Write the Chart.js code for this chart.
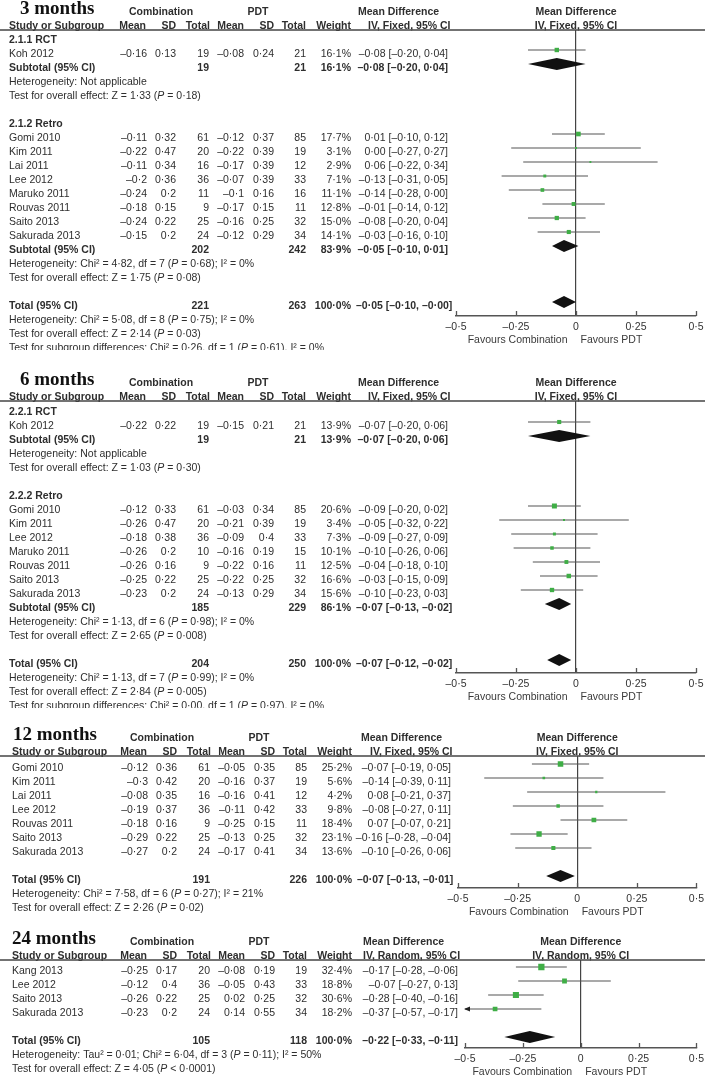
<!DOCTYPE html>
<html>
<head>
<meta charset="utf-8">
<script src="https://cdn.jsdelivr.net/npm/chart.js@4.4.1/dist/chart.umd.min.js"></script>
<style>
  html, body { margin: 0; padding: 0; background: #fff; }
  #pagina { position: relative; width: 709px; height: 1077px; overflow: hidden; background: #fff; }
  #pagina canvas { position: absolute; left: 0; }
</style>
</head>
<body>
<div id="pagina">
  <canvas id="pannello-3" width="709" height="350" style="top:0px"></canvas>
  <canvas id="pannello-6" width="709" height="353" style="top:355px"></canvas>
  <canvas id="pannello-12" width="709" height="208" style="top:712px"></canvas>
  <canvas id="pannello-24" width="709" height="155" style="top:922px"></canvas>
</div>
<script>
// ============================================================
// DATI - 3 mesi
// ============================================================
const studi3 = ["Koh 2012", "Gomi 2010", "Kim 2011", "Lai 2011", "Lee 2012", "Maruko 2011", "Rouvas 2011", "Saito 2013", "Sakurada 2013"];
const gruppo3 = [0, 1, 1, 1, 1, 1, 1, 1, 1];
const nomiGruppi3 = ["2.1.1 RCT", "2.1.2 Retro"];
const mediaComb3 = [-0.16, -0.11, -0.22, -0.11, -0.2, -0.24, -0.18, -0.24, -0.15];
const sdComb3 = [0.13, 0.32, 0.47, 0.34, 0.36, 0.2, 0.15, 0.22, 0.2];
const totComb3 = [19, 61, 20, 16, 36, 11, 9, 25, 24];
const mediaPdt3 = [-0.08, -0.12, -0.22, -0.17, -0.07, -0.1, -0.17, -0.16, -0.12];
const sdPdt3 = [0.24, 0.37, 0.39, 0.39, 0.39, 0.16, 0.15, 0.25, 0.29];
const totPdt3 = [21, 85, 19, 12, 33, 16, 11, 32, 34];
const peso3 = [16.1, 17.7, 3.1, 2.9, 7.1, 11.1, 12.8, 15.0, 14.1];
const diff3 = [-0.08, 0.01, 0.00, 0.06, -0.13, -0.14, -0.01, -0.08, -0.03];
const infCI3 = [-0.20, -0.10, -0.27, -0.22, -0.31, -0.28, -0.14, -0.20, -0.16];
const supCI3 = [0.04, 0.12, 0.27, 0.34, 0.05, 0.00, 0.12, 0.04, 0.10];
// sintesi: sottogruppi e poi totale
const sintComb3 = [19, 202, 221];
const sintPdt3 = [21, 242, 263];
const sintPeso3 = [16.1, 83.9, 100.0];
const sintDiff3 = [-0.08, -0.05, -0.05];
const sintInf3 = [-0.20, -0.10, -0.10];
const sintSup3 = [0.04, 0.01, -0.00];
const note3 = [
  ["Heterogeneity: Not applicable", "Test for overall effect: Z = 1·33 (P = 0·18)"],
  ["Heterogeneity: Chi² = 4·82, df = 7 (P = 0·68); I² = 0%", "Test for overall effect: Z = 1·75 (P = 0·08)"],
  ["Heterogeneity: Chi² = 5·08, df = 8 (P = 0·75); I² = 0%", "Test for overall effect: Z = 2·14 (P = 0·03)",
   "Test for subgroup differences: Chi² = 0·26, df = 1 (P = 0·61), I² = 0%"]
];

// ============================================================
// DATI - 6 mesi
// ============================================================
const studi6 = ["Koh 2012", "Gomi 2010", "Kim 2011", "Lee 2012", "Maruko 2011", "Rouvas 2011", "Saito 2013", "Sakurada 2013"];
const gruppo6 = [0, 1, 1, 1, 1, 1, 1, 1];
const nomiGruppi6 = ["2.2.1 RCT", "2.2.2 Retro"];
const mediaComb6 = [-0.22, -0.12, -0.26, -0.18, -0.26, -0.26, -0.25, -0.23];
const sdComb6 = [0.22, 0.33, 0.47, 0.38, 0.2, 0.16, 0.22, 0.2];
const totComb6 = [19, 61, 20, 36, 10, 9, 25, 24];
const mediaPdt6 = [-0.15, -0.03, -0.21, -0.09, -0.16, -0.22, -0.22, -0.13];
const sdPdt6 = [0.21, 0.34, 0.39, 0.4, 0.19, 0.16, 0.25, 0.29];
const totPdt6 = [21, 85, 19, 33, 15, 11, 32, 34];
const peso6 = [13.9, 20.6, 3.4, 7.3, 10.1, 12.5, 16.6, 15.6];
const diff6 = [-0.07, -0.09, -0.05, -0.09, -0.10, -0.04, -0.03, -0.10];
const infCI6 = [-0.20, -0.20, -0.32, -0.27, -0.26, -0.18, -0.15, -0.23];
const supCI6 = [0.06, 0.02, 0.22, 0.09, 0.06, 0.10, 0.09, 0.03];
const sintComb6 = [19, 185, 204];
const sintPdt6 = [21, 229, 250];
const sintPeso6 = [13.9, 86.1, 100.0];
const sintDiff6 = [-0.07, -0.07, -0.07];
const sintInf6 = [-0.20, -0.13, -0.12];
const sintSup6 = [0.06, -0.02, -0.02];
const note6 = [
  ["Heterogeneity: Not applicable", "Test for overall effect: Z = 1·03 (P = 0·30)"],
  ["Heterogeneity: Chi² = 1·13, df = 6 (P = 0·98); I² = 0%", "Test for overall effect: Z = 2·65 (P = 0·008)"],
  ["Heterogeneity: Chi² = 1·13, df = 7 (P = 0·99); I² = 0%", "Test for overall effect: Z = 2·84 (P = 0·005)",
   "Test for subgroup differences: Chi² = 0·00, df = 1 (P = 0·97), I² = 0%"]
];

// ============================================================
// DATI - 12 mesi
// ============================================================
const studi12 = ["Gomi 2010", "Kim 2011", "Lai 2011", "Lee 2012", "Rouvas 2011", "Saito 2013", "Sakurada 2013"];
const mediaComb12 = [-0.12, -0.3, -0.08, -0.19, -0.18, -0.29, -0.27];
const sdComb12 = [0.36, 0.42, 0.35, 0.37, 0.16, 0.22, 0.2];
const totComb12 = [61, 20, 16, 36, 9, 25, 24];
const mediaPdt12 = [-0.05, -0.16, -0.16, -0.11, -0.25, -0.13, -0.17];
const sdPdt12 = [0.35, 0.37, 0.41, 0.42, 0.15, 0.25, 0.41];
const totPdt12 = [85, 19, 12, 33, 11, 32, 34];
const peso12 = [25.2, 5.6, 4.2, 9.8, 18.4, 23.1, 13.6];
const diff12 = [-0.07, -0.14, 0.08, -0.08, 0.07, -0.16, -0.10];
const infCI12 = [-0.19, -0.39, -0.21, -0.27, -0.07, -0.28, -0.26];
const supCI12 = [0.05, 0.11, 0.37, 0.11, 0.21, -0.04, 0.06];
const sintComb12 = [191];
const sintPdt12 = [226];
const sintPeso12 = [100.0];
const sintDiff12 = [-0.07];
const sintInf12 = [-0.13];
const sintSup12 = [-0.01];
const note12 = [
  ["Heterogeneity: Chi² = 7·58, df = 6 (P = 0·27); I² = 21%", "Test for overall effect: Z = 2·26 (P = 0·02)"]
];

// ============================================================
// DATI - 24 mesi
// ============================================================
const studi24 = ["Kang 2013", "Lee 2012", "Saito 2013", "Sakurada 2013"];
const mediaComb24 = [-0.25, -0.12, -0.26, -0.23];
const sdComb24 = [0.17, 0.4, 0.22, 0.2];
const totComb24 = [20, 36, 25, 24];
const mediaPdt24 = [-0.08, -0.05, 0.02, 0.14];
const sdPdt24 = [0.19, 0.43, 0.25, 0.55];
const totPdt24 = [19, 33, 32, 34];
const peso24 = [32.4, 18.8, 30.6, 18.2];
const diff24 = [-0.17, -0.07, -0.28, -0.37];
const infCI24 = [-0.28, -0.27, -0.40, -0.57];
const supCI24 = [-0.06, 0.13, -0.16, -0.17];
const sintComb24 = [105];
const sintPdt24 = [118];
const sintPeso24 = [100.0];
const sintDiff24 = [-0.22];
const sintInf24 = [-0.33];
const sintSup24 = [-0.11];
const note24 = [
  ["Heterogeneity: Tau² = 0·01; Chi² = 6·04, df = 3 (P = 0·11); I² = 50%", "Test for overall effect: Z = 4·05 (P < 0·0001)"]
];

const tickAsse = [-0.5, -0.25, 0, 0.25, 0.5];

// ============================================================
// STILE
// ============================================================
const FONT = '"Liberation Sans", Arial, sans-serif';
const DIM = 10.5;
const TESTO = "#2e2e2e";
const GRIGIO = "#555";
const VERDE = "#3fae46";
const ALTEZZA_ASSE = 20;

function formattaNumero(v) {
  return (v < 0 ? "–" : "") + String(Math.abs(v)).replace(".", "·");
}

function formattaDue(v) {
  const negativo = v < 0 || Object.is(v, -0);
  return (negativo ? "–" : "") + Math.abs(v).toFixed(2).replace(".", "·");
}

function formattaPeso(v) {
  return v.toFixed(1).replace(".", "·") + "%";
}

function testoCI(md, lo, hi) {
  return formattaDue(md) + " [" + formattaDue(lo) + ", " + formattaDue(hi) + "]";
}

/**
 * Costruisce l'elenco delle righe (studi, sottogruppi, sintesi, note)
 * nell'ordine in cui compaiono nel forest plot.
 */
function costruisciRighe(d) {
  const righe = [];
  const gruppi = d.nomiGruppi || [];

  function riga(k) {
    return {
      tipo: "studio", etichetta: d.studi[k],
      mediaC: d.mediaC[k], sdC: d.sdC[k], nC: d.nC[k],
      mediaP: d.mediaP[k], sdP: d.sdP[k], nP: d.nP[k],
      peso: d.peso[k], md: d.md[k], lo: d.lo[k], hi: d.hi[k]
    };
  }
  function sintesi(k, etichetta) {
    return {
      tipo: "sintesi", etichetta: etichetta,
      nC: d.sintC[k], nP: d.sintP[k], peso: d.sintPeso[k],
      md: d.sintMd[k], lo: d.sintLo[k], hi: d.sintHi[k]
    };
  }
  function note(k) {
    d.note[k].forEach(function (t) { righe.push({ tipo: "nota", testo: t }); });
  }

  if (gruppi.length) {
    gruppi.forEach(function (nome, g) {
      righe.push({ tipo: "gruppo", testo: nome });
      d.studi.forEach(function (s, k) { if (d.gruppo[k] === g) righe.push(riga(k)); });
      righe.push(sintesi(g, "Subtotal (95% CI)"));
      note(g);
      righe.push({ tipo: "vuota" });
    });
  } else {
    d.studi.forEach(function (s, k) { righe.push(riga(k)); });
    righe.push({ tipo: "vuota" });
  }
  righe.push(sintesi(gruppi.length, "Total (95% CI)"));
  note(gruppi.length);
  return righe;
}

const PANNELLI = [
  {
    canvas: "pannello-3", titolo: "3 months", metodo: "IV, Fixed, 95% CI",
    top: 0, altezza: 350, lineaTestata: 30, primaRiga: 36, passo: 14, asseY: 316,
    asseSx: 456, asseDx: 696, dx: 0, sxTitolo: 20, sxEtichette: 9, dxCI: 448, sxMD: 358, sxMetodo: 368,
    righe: costruisciRighe({
      studi: studi3, gruppo: gruppo3, nomiGruppi: nomiGruppi3,
      mediaC: mediaComb3, sdC: sdComb3, nC: totComb3, mediaP: mediaPdt3, sdP: sdPdt3, nP: totPdt3,
      peso: peso3, md: diff3, lo: infCI3, hi: supCI3,
      sintC: sintComb3, sintP: sintPdt3, sintPeso: sintPeso3, sintMd: sintDiff3, sintLo: sintInf3, sintHi: sintSup3,
      note: note3
    })
  },
  {
    canvas: "pannello-6", titolo: "6 months", metodo: "IV, Fixed, 95% CI",
    top: 355, altezza: 353, lineaTestata: 401, primaRiga: 408, passo: 14, asseY: 673,
    asseSx: 456, asseDx: 696, dx: 0, sxTitolo: 20, sxEtichette: 9, dxCI: 448, sxMD: 358, sxMetodo: 368,
    righe: costruisciRighe({
      studi: studi6, gruppo: gruppo6, nomiGruppi: nomiGruppi6,
      mediaC: mediaComb6, sdC: sdComb6, nC: totComb6, mediaP: mediaPdt6, sdP: sdPdt6, nP: totPdt6,
      peso: peso6, md: diff6, lo: infCI6, hi: supCI6,
      sintC: sintComb6, sintP: sintPdt6, sintPeso: sintPeso6, sintMd: sintDiff6, sintLo: sintInf6, sintHi: sintSup6,
      note: note6
    })
  },
  {
    canvas: "pannello-12", titolo: "12 months", metodo: "IV, Fixed, 95% CI",
    top: 712, altezza: 208, lineaTestata: 756, primaRiga: 764, passo: 14, asseY: 888,
    asseSx: 458, asseDx: 699, dx: 1, sxTitolo: 13, sxEtichette: 12, dxCI: 451, sxMD: 361, sxMetodo: 370,
    righe: costruisciRighe({
      studi: studi12,
      mediaC: mediaComb12, sdC: sdComb12, nC: totComb12, mediaP: mediaPdt12, sdP: sdPdt12, nP: totPdt12,
      peso: peso12, md: diff12, lo: infCI12, hi: supCI12,
      sintC: sintComb12, sintP: sintPdt12, sintPeso: sintPeso12, sintMd: sintDiff12, sintLo: sintInf12, sintHi: sintSup12,
      note: note12
    })
  },
  {
    canvas: "pannello-24", titolo: "24 months", metodo: "IV, Random, 95% CI",
    top: 922, altezza: 155, lineaTestata: 960, primaRiga: 967, passo: 14, asseY: 1048,
    asseSx: 465, asseDx: 699, dx: 1, sxTitolo: 12, sxEtichette: 12, dxCI: 458, sxMD: 363, sxMetodo: 363,
    righe: costruisciRighe({
      studi: studi24,
      mediaC: mediaComb24, sdC: sdComb24, nC: totComb24, mediaP: mediaPdt24, sdP: sdPdt24, nP: totPdt24,
      peso: peso24, md: diff24, lo: infCI24, hi: supCI24,
      sintC: sintComb24, sintP: sintPdt24, sintPeso: sintPeso24, sintMd: sintDiff24, sintLo: sintInf24, sintHi: sintSup24,
      note: note24
    })
  }
];

// ============================================================
// DISEGNO
// ============================================================
function scrivi(ctx, testo, x, y, allineamento, grassetto) {
  ctx.font = (grassetto ? "bold " : "") + DIM + "px " + FONT;
  ctx.textAlign = allineamento || "left";
  ctx.fillText(testo, x, y);
}

// testo con la P in corsivo
function scriviRicco(ctx, testo, x, y) {
  const pezzi = testo.split(/(P(?= [=<]))/);
  let cx = x;
  ctx.textAlign = "left";
  pezzi.forEach(function (p) {
    ctx.font = (p === "P" ? "italic " : "") + DIM + "px " + FONT;
    ctx.fillText(p, cx, y);
    cx += ctx.measureText(p).width;
  });
}

function pluginPannello(p) {
  const top = p.top;
  return {
    id: "tabella-" + p.canvas,
    afterDatasetsDraw: function (chart) {
      const ctx = chart.ctx;
      const sx = chart.scales.x;
      const sy = chart.scales.y;
      ctx.save();
      // rombi delle sintesi
      ctx.fillStyle = "#111";
      p.righe.forEach(function (r, i) {
        if (r.tipo !== "sintesi") return;
        const y = sy.getPixelForValue(i);
        ctx.beginPath();
        ctx.moveTo(sx.getPixelForValue(r.lo), y);
        ctx.lineTo(sx.getPixelForValue(r.md), y - 6);
        ctx.lineTo(sx.getPixelForValue(r.hi), y);
        ctx.lineTo(sx.getPixelForValue(r.md), y + 6);
        ctx.closePath();
        ctx.fill();
      });
      // freccia per gli intervalli fuori scala
      p.righe.forEach(function (r, i) {
        if (r.tipo !== "studio" || r.lo >= sx.min) return;
        const y = sy.getPixelForValue(i);
        const x0 = chart.chartArea.left;
        ctx.fillStyle = "#222";
        ctx.beginPath();
        ctx.moveTo(x0 - 1, y);
        ctx.lineTo(x0 + 5, y - 2.5);
        ctx.lineTo(x0 + 5, y + 2.5);
        ctx.closePath();
        ctx.fill();
      });
      ctx.restore();
    },
    afterDraw: function (chart) {
      const ctx = chart.ctx;
      const sx = chart.scales.x;
      const sy = chart.scales.y;
      const zero = sx.getPixelForValue(0);
      const linea = p.lineaTestata - top;
      const asse = p.asseY - top;
      const dx = p.dx;
      ctx.save();
      ctx.fillStyle = TESTO;
      ctx.textBaseline = "alphabetic";

      // titolo
      ctx.font = "bold 19px \"Liberation Serif\", \"Times New Roman\", serif";
      ctx.textAlign = "left";
      ctx.fillStyle = "#111";
      ctx.fillText(p.titolo, p.sxTitolo, linea - 16.5);
      ctx.fillStyle = TESTO;

      // intestazioni
      const y1 = linea - 15;
      const y2 = linea - 1.5;
      scrivi(ctx, "Combination", 161 + dx, y1, "center", true);
      scrivi(ctx, "PDT", 258 + dx, y1, "center", true);
      scrivi(ctx, "Mean Difference", p.sxMD, y1, "left", true);
      scrivi(ctx, "Mean Difference", zero, y1, "center", true);
      scrivi(ctx, "Study or Subgroup", p.sxEtichette, y2, "left", true);
      scrivi(ctx, "Mean", 146 + dx, y2, "right", true);
      scrivi(ctx, "SD", 176 + dx, y2, "right", true);
      scrivi(ctx, "Total", 210 + dx, y2, "right", true);
      scrivi(ctx, "Mean", 244 + dx, y2, "right", true);
      scrivi(ctx, "SD", 274 + dx, y2, "right", true);
      scrivi(ctx, "Total", 306 + dx, y2, "right", true);
      scrivi(ctx, "Weight", 351 + dx, y2, "right", true);
      scrivi(ctx, p.metodo, p.sxMetodo, y2, "left", true);
      scrivi(ctx, p.metodo, zero, y2, "center", true);

      ctx.strokeStyle = "#444";
      ctx.lineWidth = 1.3;
      ctx.beginPath();
      ctx.moveTo(0, linea);
      ctx.lineTo(705, linea);
      ctx.stroke();

      // righe della tabella
      p.righe.forEach(function (r, i) {
        const y = sy.getPixelForValue(i) + 7;
        if (r.tipo === "gruppo") {
          scrivi(ctx, r.testo, p.sxEtichette, y, "left", true);
        } else if (r.tipo === "nota") {
          scriviRicco(ctx, r.testo, p.sxEtichette, y);
        } else if (r.tipo === "studio") {
          scrivi(ctx, r.etichetta, p.sxEtichette, y, "left");
          scrivi(ctx, formattaNumero(r.mediaC), 147 + dx, y, "right");
          scrivi(ctx, formattaNumero(r.sdC), 176 + dx, y, "right");
          scrivi(ctx, String(r.nC), 209 + dx, y, "right");
          scrivi(ctx, formattaNumero(r.mediaP), 244 + dx, y, "right");
          scrivi(ctx, formattaNumero(r.sdP), 274 + dx, y, "right");
          scrivi(ctx, String(r.nP), 306 + dx, y, "right");
          scrivi(ctx, formattaPeso(r.peso), 351 + dx, y, "right");
          scrivi(ctx, testoCI(r.md, r.lo, r.hi), p.dxCI, y, "right");
        } else if (r.tipo === "sintesi") {
          scrivi(ctx, r.etichetta, p.sxEtichette, y, "left", true);
          scrivi(ctx, String(r.nC), 209 + dx, y, "right", true);
          scrivi(ctx, String(r.nP), 306 + dx, y, "right", true);
          scrivi(ctx, formattaPeso(r.peso), 351 + dx, y, "right", true);
          // il testo in grassetto non deve toccare la colonna dei pesi
          const ci = testoCI(r.md, r.lo, r.hi);
          ctx.font = "bold " + DIM + "px " + FONT;
          const inizio = Math.max(p.dxCI - ctx.measureText(ci).width, 356 + dx);
          scrivi(ctx, ci, inizio, y, "left", true);
        }
      });

      // tacche dell'asse verso l'alto
      ctx.strokeStyle = GRIGIO;
      ctx.lineWidth = 1.3;
      sx.ticks.forEach(function (t) {
        const x = Math.round(sx.getPixelForValue(t.value)) + 0.5;
        ctx.beginPath();
        ctx.moveTo(x, asse - 5);
        ctx.lineTo(x, asse);
        ctx.stroke();
      });

      // etichette "Favours"
      ctx.fillStyle = "#3a3a3a";
      scrivi(ctx, "Favours Combination", zero - 8.5, asse + 27, "right");
      scrivi(ctx, "Favours PDT", zero + 4.5, asse + 27, "left");
      ctx.restore();
    }
  };
}

function disegnaPannello(p) {
  const canvas = document.getElementById(p.canvas);
  const studi = [];
  p.righe.forEach(function (r, i) { if (r.tipo === "studio") studi.push({ r: r, i: i }); });

  const datasetQuadrati = {
    data: studi.map(function (o) { return { x: o.r.md, y: o.i }; }),
    pointStyle: "rect",
    pointRadius: studi.map(function (o) { return 1.1 * Math.sqrt(o.r.peso) / Math.SQRT2; }),
    backgroundColor: VERDE,
    borderWidth: 0,
    showLine: false,
    order: 0
  };
  const datasetCI = studi.map(function (o) {
    return {
      data: [{ x: o.r.lo, y: o.i }, { x: o.r.hi, y: o.i }],
      showLine: true,
      borderColor: GRIGIO,
      borderWidth: 1.2,
      pointRadius: 0,
      order: 1
    };
  });

  return new Chart(canvas, {
    type: "scatter",
    data: { datasets: [datasetQuadrati].concat(datasetCI) },
    options: {
      responsive: false,
      animation: false,
      devicePixelRatio: 1,
      events: [],
      layout: {
        padding: {
          left: p.asseSx,
          right: 709 - p.asseDx,
          top: p.lineaTestata - p.top,
          bottom: p.altezza - (p.asseY - p.top) - ALTEZZA_ASSE
        }
      },
      scales: {
        x: {
          type: "linear",
          position: "bottom",
          min: tickAsse[0],
          max: tickAsse[tickAsse.length - 1],
          afterFit: function (s) { s.height = ALTEZZA_ASSE; },
          afterBuildTicks: function (s) { s.ticks = tickAsse.map(function (v) { return { value: v }; }); },
          ticks: {
            padding: 5,
            maxRotation: 0,
            autoSkip: false,
            color: "#333",
            font: { family: FONT, size: DIM },
            callback: function (v) { return formattaNumero(v); }
          },
          grid: {
            drawTicks: false,
            lineWidth: 1.2,
            color: function (c) { return c.tick && c.tick.value === 0 ? "#444" : "rgba(0,0,0,0)"; }
          },
          border: { display: true, color: GRIGIO, width: 1.4 }
        },
        y: {
          type: "linear",
          display: false,
          reverse: true,
          min: (p.lineaTestata - p.primaRiga) / p.passo,
          max: (p.asseY - p.primaRiga) / p.passo
        }
      },
      plugins: {
        legend: { display: false },
        tooltip: { enabled: false }
      }
    },
    plugins: [pluginPannello(p)]
  });
}

PANNELLI.forEach(disegnaPannello);
</script>
</body>
</html>
